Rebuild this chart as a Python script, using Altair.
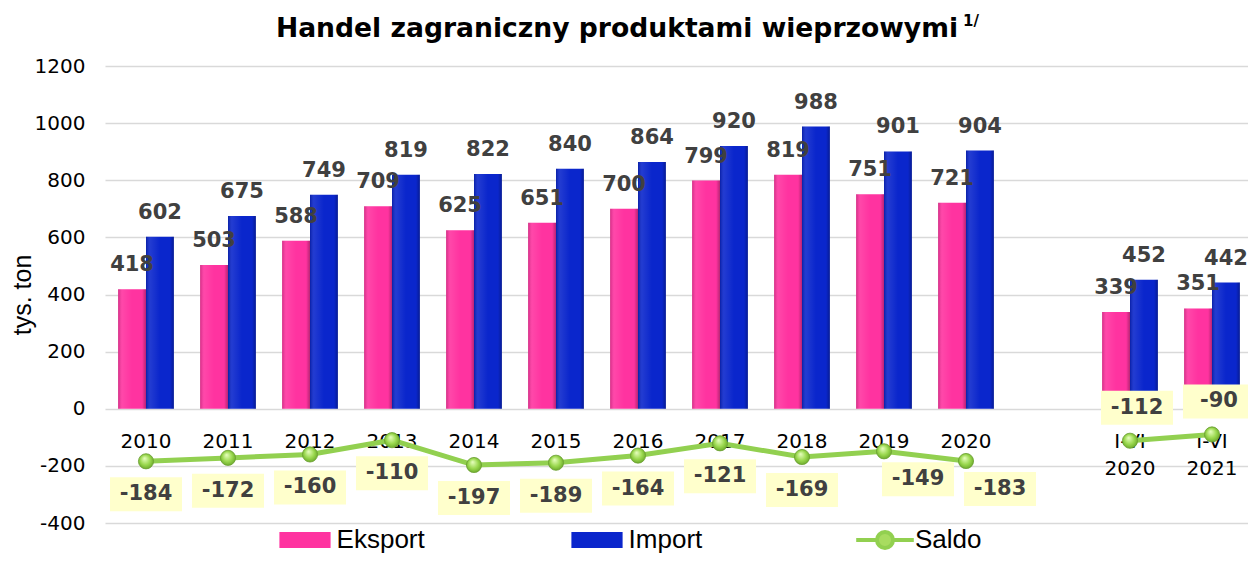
import altair as alt
import pandas as pd

# ---------------- data ----------------
categories = ["2010", "2011", "2012", "2013", "2014", "2015", "2016", "2017",
              "2018", "2019", "2020", "I-VI 2020", "I-VI 2021"]
eksport = [418, 503, 588, 709, 625, 651, 700, 799, 819, 751, 721, 339, 351]
import_ = [602, 675, 749, 819, 822, 840, 864, 920, 988, 901, 904, 452, 442]
saldo = [-184, -172, -160, -110, -197, -189, -164, -121, -169, -149, -183, -112, -90]
okres = ["rok"] * 11 + ["I-VI"] * 2
series_names = ["Eksport", "Import"]
y_ticks = [-400, -200, 0, 200, 400, 600, 800, 1000, 1200]
gap = " "
x_domain = categories[:11] + [gap] + categories[11:]

labels_below = categories[:9]
labels_right = ["2019", "2020"]
labels_above = categories[11:]

title_text = ["Handel zagraniczny produktami wieprzowymi"]
title_sup = ["1/"]
y_title = "tys. ton"

bars_df = pd.DataFrame({
    "kat": categories * 2,
    "seria": [series_names[0]] * len(categories) + [series_names[1]] * len(categories),
    "wartosc": eksport + import_,
})
saldo_df = pd.DataFrame({"kat": categories, "saldo": saldo, "okres": okres, "seria": "Saldo"})

# ---------------- styles ----------------
PINK = "#ff33a0"
BLUE = "#0a26cc"
GREEN = "#92d050"
LABEL_COL = "#404040"
FONT = "DejaVu Sans"

W, H = 1145, 457

x_enc = alt.X("kat:N", scale=alt.Scale(domain=x_domain, range=[2, 1150], paddingInner=0.32,
                                       paddingOuter=0.16), axis=None, sort=x_domain)
xoff = alt.XOffset("seria:N", scale=alt.Scale(domain=series_names, paddingInner=0, paddingOuter=0))
y_scale = alt.Scale(domain=[-400, 1200], nice=False, zero=False)

rect_path = "M-1.6,-0.5H1.6V0.5H-1.6Z"
saldo_sym = "M-1.8,0H-0.5M0.5,0H1.8M0.5,0A0.5,0.5 0 1,1 -0.5,0A0.5,0.5 0 1,1 0.5,0Z"

bars = alt.Chart(bars_df).mark_bar(opacity=1).encode(
    x=x_enc,
    xOffset=xoff,
    y=alt.Y("wartosc:Q", stack=None, scale=y_scale,
            axis=alt.Axis(values=y_ticks, title=y_title, titleFont="Liberation Sans",
                          titleFontSize=25, titleFontWeight="normal", titleColor="black",
                          titleX=-81, titleBaseline="middle",
                          labelFont=FONT, labelFontSize=20, labelColor="black",
                          labelExpr="datum.value + ''",
                          ticks=False, domain=False, gridColor="#d9d9d9", gridWidth=1.5,
                          labelPadding=18)),
    color=alt.Color("seria:N", scale=alt.Scale(domain=series_names, range=[PINK, BLUE]),
                    legend=alt.Legend(orient="none", legendX=186, legendY=458,
                                      direction="horizontal", columns=2, columnPadding=146,
                                      title=None, padding=0, symbolType=rect_path,
                                      symbolSize=1024, symbolStrokeWidth=0,
                                      labelFont="Liberation Sans", labelFontSize=26,
                                      labelColor="black", labelOffset=15.6, labelLimit=300)),
)

shade = alt.Chart(bars_df).mark_bar(
    opacity=1,
    fill={"gradient": "linear", "x1": 0, "y1": 0, "x2": 1, "y2": 0,
          "stops": [
              {"offset": 0, "color": "rgba(0,0,0,0.18)"},
              {"offset": 0.14, "color": "rgba(255,255,255,0.10)"},
              {"offset": 0.5, "color": "rgba(255,255,255,0.0)"},
              {"offset": 0.86, "color": "rgba(0,0,0,0.0)"},
              {"offset": 1, "color": "rgba(0,0,0,0.28)"},
          ]},
).encode(x=x_enc, xOffset=xoff, y=alt.Y("wartosc:Q", stack=None, scale=y_scale))

bar_labels = alt.Chart(bars_df).transform_calculate(
    lab="'' + datum.wartosc"
).mark_text(
    baseline="middle", dy=-24, font=FONT, fontSize=21, fontWeight="bold", color=LABEL_COL
).encode(x=x_enc, xOffset=xoff, y=alt.Y("wartosc:Q", stack=None, scale=y_scale), text="lab:N")

cat_labels = alt.Chart(saldo_df).mark_text(
    baseline="top", font=FONT, fontSize=20, color="black", lineBreak=" ", lineHeight=27
).encode(x=x_enc, y=alt.datum(-83, scale=y_scale), text="kat:N")

line = alt.Chart(saldo_df).mark_line(strokeWidth=5).encode(
    x=x_enc,
    y=alt.Y("saldo:Q", scale=y_scale),
    detail="okres:N",
    stroke=alt.Stroke("seria:N", scale=alt.Scale(domain=["Saldo"], range=[GREEN]),
                      legend=alt.Legend(orient="none", legendX=764, legendY=456, title=None,
                                        padding=0, symbolType=saldo_sym, symbolSize=1024,
                                        symbolStrokeWidth=4, symbolFillColor="#a8dc60",
                                        labelFont="Liberation Sans", labelFontSize=26,
                                        labelColor="black", labelOffset=12)),
)

points = alt.Chart(saldo_df).mark_point(
    filled=True, size=230, opacity=1, stroke="#6a9e30", strokeWidth=0.8,
    fill={"gradient": "radial", "x1": 0.4, "y1": 0.3, "r1": 0, "x2": 0.5, "y2": 0.5, "r2": 0.6,
          "stops": [{"offset": 0, "color": "#e8ffc0"},
                    {"offset": 0.55, "color": "#9ad84e"},
                    {"offset": 1, "color": "#5e9c22"}]},
).encode(x=x_enc, y=alt.Y("saldo:Q", scale=y_scale))


def box_path(dx, dy, hw=36, hh=17, r=17):
    return (f"M{(dx-hw)/r:.3f},{(dy-hh)/r:.3f}H{(dx+hw)/r:.3f}"
            f"V{(dy+hh)/r:.3f}H{(dx-hw)/r:.3f}Z")


def saldo_label_layer(cats, dx, dy):
    base = alt.Chart(saldo_df).transform_filter(
        alt.FieldOneOfPredicate(field="kat", oneOf=cats)
    ).transform_calculate(lab="'' + datum.saldo")
    box = base.mark_point(shape=box_path(dx, dy), size=1156, filled=True, opacity=1,
                          fill="#ffffcc", strokeWidth=0).encode(
        x=x_enc, y=alt.Y("saldo:Q", scale=y_scale))
    txt = base.mark_text(dx=dx, dy=dy, baseline="middle", font=FONT, fontSize=21,
                         fontWeight="bold", color=LABEL_COL).encode(
        x=x_enc, y=alt.Y("saldo:Q", scale=y_scale), text="lab:N")
    return box + txt


lab_below = saldo_label_layer(labels_below, 0, 33)
lab_right = saldo_label_layer(labels_right, 34, 28)
lab_above = saldo_label_layer(labels_above, 7, -33)

title = alt.Chart(pd.DataFrame({"t": title_text})).mark_text(
    align="right", baseline="alphabetic", font=FONT, fontSize=26.6, fontWeight="bold", color="black"
).encode(x=alt.value(855), y=alt.value(-29), text="t:N")

sup = alt.Chart(pd.DataFrame({"t": title_sup})).mark_text(
    align="left", baseline="alphabetic", font=FONT, fontSize=15, fontWeight="bold", color="black"
).encode(x=alt.value(860), y=alt.value(-40), text="t:N")

chart = alt.layer(
    bars, shade, bar_labels, cat_labels, line, points, lab_below, lab_right, lab_above, title, sup
).properties(
    width=W, height=H,
    autosize=alt.AutoSizeParams(type="none"),
    padding={"left": 95, "top": 58, "right": 0, "bottom": 31},
).resolve_scale(color="independent").configure_view(stroke=None)

chart.save("out.html", embed_options={"renderer": "svg", "actions": False})
